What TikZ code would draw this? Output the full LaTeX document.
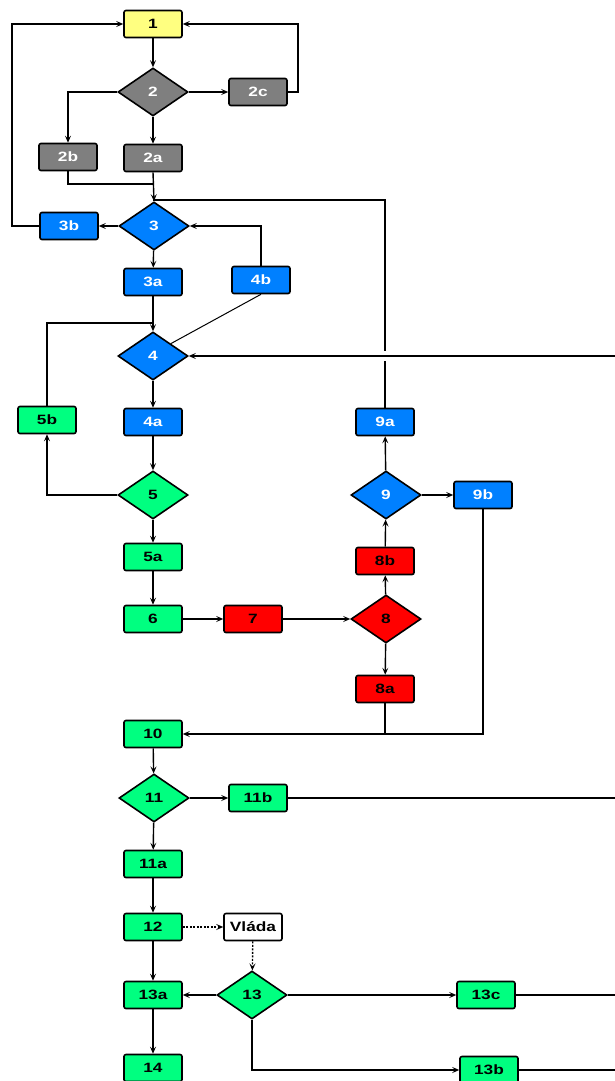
\documentclass[tikz,border=0pt]{standalone}
\usepackage{fontspec}
\setmainfont{Liberation Sans}[FakeStretch=1.28]
\usetikzlibrary{shapes.geometric,arrows.meta}
\definecolor{cyel}{HTML}{FFFF80}
\definecolor{cgray}{HTML}{7F7F7F}
\definecolor{cblue}{HTML}{0080FF}
\definecolor{cgreen}{HTML}{00FF80}
\definecolor{cred}{HTML}{FF0000}
\tikzset{
  base/.style={draw=black, line width=1.6pt, font=\fontsize{13.5}{15}\selectfont\bfseries, inner sep=0pt},
  box/.style={base, rectangle, rounded corners=2pt, minimum width=58pt, minimum height=27pt},
  dia/.style={base, diamond, aspect=1.46, minimum width=70pt, minimum height=48pt},
  gy/.style={fill=cgray, text=white},
  bl/.style={fill=cblue, text=white},
  gr/.style={fill=cgreen, text=black},
  rd/.style={fill=cred, text=black},
  yl/.style={fill=cyel, text=black},
  wh/.style={fill=white, text=black},
  conn/.style={line width=1.4pt, draw=black},
  arr/.style={conn, -{Stealth[length=7pt,width=6pt,inset=3pt]}},
  dotarr/.style={arr, dash pattern=on 2pt off 1.5pt},
}
\begin{document}
\begin{tikzpicture}[x=1pt,y=-1pt]
\useasboundingbox[fill=white] (0,0) rectangle (615,1081);
% nodes
\node[box,yl] (n1) at (153,24) {1};
\node[dia,gy] (n2) at (153,92) {2};
\node[box,gy] (n2c) at (258,92) {2c};
\node[box,gy] (n2b) at (68,157) {2b};
\node[box,gy] (n2a) at (153,158) {2a};
\node[dia,bl] (n3) at (154,226) {3};
\node[box,bl] (n3b) at (69,226) {3b};
\node[box,bl] (n3a) at (153,282) {3a};
\node[box,bl] (n4b) at (261,280) {4b};
\node[dia,bl] (n4) at (153,356) {4};
\node[box,gr] (n5b) at (47,420) {5b};
\node[box,bl] (n4a) at (153,422) {4a};
\node[dia,gr] (n5) at (153,495) {5};
\node[box,gr] (n5a) at (153,557) {5a};
\node[box,gr] (n6) at (153,619) {6};
\node[box,rd] (n7) at (253,619) {7};
\node[dia,rd] (n8) at (386,619) {8};
\node[box,rd] (n8a) at (385,689) {8a};
\node[box,rd] (n8b) at (385,561) {8b};
\node[dia,bl] (n9) at (386,495) {9};
\node[box,bl] (n9a) at (385,422) {9a};
\node[box,bl] (n9b) at (483,495) {9b};
\node[box,gr] (n10) at (153,734) {10};
\node[dia,gr] (n11) at (154,798) {11};
\node[box,gr] (n11b) at (258,798) {11b};
\node[box,gr] (n11a) at (153,864) {11a};
\node[box,gr] (n12) at (153,927) {12};
\node[box,wh] (nv) at (253,927) {Vláda};
\node[dia,gr] (n13) at (252,995) {13};
\node[box,gr] (n13a) at (153,995) {13a};
\node[box,gr] (n13c) at (486,995) {13c};
\node[box,gr] (n14) at (153,1068) {14};
\node[box,gr] (n13b) at (489,1070) {13b};
% helper coordinates
\coordinate (c2c) at (298,92);
\coordinate (c3b) at (12,226);
\coordinate (j3) at (153,184);
\coordinate (j9) at (153,200);
\coordinate (j4) at (153,323);
\coordinate (e4) at (615,356);
\coordinate (e11) at (615,798);
\coordinate (e13c) at (615,995);
\coordinate (e13b) at (615,1070);
% connectors
\draw[arr] (n1) -- (n2);
\draw[arr] (n2) -- (n2c);
\draw[arr] (n2c.east) -- (c2c) |- (n1.east);
\draw[arr] (n2.west) -| (n2b.north);
\draw[arr] (n2) -- (n2a);
\draw[conn] (n2b.south) |- (j3);
\draw[arr] (n2a.south) -- (n3.north);
\draw[arr] (n3) -- (n3b);
\draw[arr] (n3b.west) -- (c3b) |- (n1.west);
\draw[arr] (n4b.north) |- (n3.east);
\draw[arr] (n3) -- (n3a);
\draw[arr] (n3a) -- (n4);
\draw[conn] (n5b.north) |- (j4);
\draw[conn, line width=1pt] (n4b.south) -- (n4.north east);
\draw[conn] (n9a.north) |- (j9);
\fill[white] (380,351) rectangle (390,361);
\draw[arr, line width=1.2pt] (e4) -- (n4.east);
\draw[arr] (n4) -- (n4a);
\draw[arr] (n4a) -- (n5);
\draw[arr] (n5.west) -| (n5b.south);
\draw[arr] (n5) -- (n5a);
\draw[arr] (n5a) -- (n6);
\draw[arr] (n6) -- (n7);
\draw[arr] (n7) -- (n8);
\draw[arr] (n8) -- (n8a);
\draw[arr] (n8) -- (n8b);
\draw[arr] (n8b) -- (n9);
\draw[arr] (n9) -- (n9a);
\draw[arr] (n9) -- (n9b);
\draw[arr] (n9b.south) |- (n10.east);
\draw[conn] (n8a.south) -- (n8a.south |- n10.east);
\draw[arr] (n10) -- (n11);
\draw[arr] (n11) -- (n11b);
\draw[conn] (n11b.east) -- (e11);
\draw[arr] (n11) -- (n11a);
\draw[arr] (n11a) -- (n12);
\draw[dotarr] (n12) -- (nv);
\draw[dotarr] (nv) -- (n13);
\draw[arr] (n12) -- (n13a);
\draw[arr] (n13) -- (n13a);
\draw[arr] (n13) -- (n13c);
\draw[conn] (n13c.east) -- (e13c);
\draw[arr] (n13.south) |- (n13b.west);
\draw[conn] (n13b.east) -- (e13b);
\draw[arr] (n13a) -- (n14);
\end{tikzpicture}
\end{document}
